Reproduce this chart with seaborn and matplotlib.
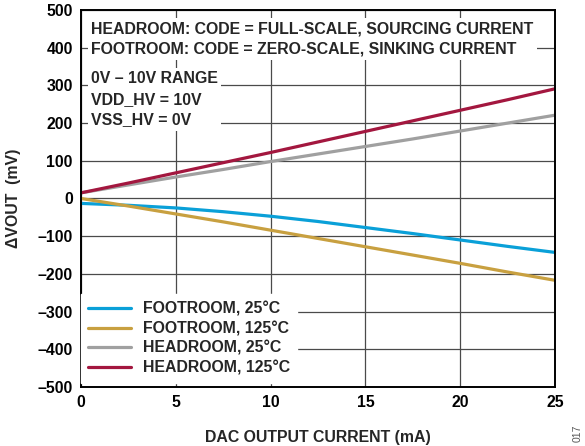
import numpy as np
import pandas as pd
import matplotlib
matplotlib.use("Agg")
import matplotlib.pyplot as plt
import seaborn as sns

# DAC output current (mA)
current_ma = [0, 2.5, 5, 7.5, 10, 12.5, 15, 17.5, 20, 22.5, 25]

# Output voltage shift (mV) for each condition
footroom_25c = [-13, -18, -25, -35, -47, -61, -77, -93, -110, -127, -143]
footroom_125c = [0, -20, -41, -62, -84, -106, -128, -150, -172, -195, -217]
headroom_25c = [15, 36, 57, 77, 98, 118, 138, 158, 179, 200, 221]
headroom_125c = [15, 41, 68, 95, 122, 150, 178, 206, 234, 262, 291]

series_names = ["FOOTROOM, 25°C", "FOOTROOM, 125°C", "HEADROOM, 25°C", "HEADROOM, 125°C"]
series_colors = ["#0aa0d8", "#c8a040", "#a0a0a0", "#a3173f"]

x_ticks = [0, 5, 10, 15, 20, 25]
y_ticks = [-500, -400, -300, -200, -100, 0, 100, 200, 300, 400, 500]

conditions_top = "HEADROOM: CODE = FULL-SCALE, SOURCING CURRENT\nFOOTROOM: CODE = ZERO-SCALE, SINKING CURRENT"
conditions_supply = "0V – 10V RANGE\nVDD_HV = 10V\nVSS_HV = 0V"

frames = []
for name, vals in zip(series_names, [footroom_25c, footroom_125c, headroom_25c, headroom_125c]):
    frames.append(pd.DataFrame({"current": current_ma, "dvout": vals, "series": name}))
df = pd.concat(frames, ignore_index=True)

sns.set_theme(style="whitegrid")
plt.rcParams["font.family"] = ["Liberation Sans", "DejaVu Sans"]
plt.rcParams["font.weight"] = "bold"
plt.rcParams["axes.unicode_minus"] = True

FS = 11.4

fig = plt.figure(figsize=(5.85, 4.46), dpi=100)
ax = fig.add_axes([81 / 585, 1 - 387 / 446, (555 - 81) / 585, (387 - 10) / 446])

sns.lineplot(data=df, x="current", y="dvout", hue="series", hue_order=series_names,
             palette=series_colors, linewidth=2.3, ax=ax, legend=True)

ax.set_xlim(0, 25)
ax.set_ylim(-500, 500)
ax.set_xticks(x_ticks)
ax.set_yticks(y_ticks)
ax.set_yticklabels([("–" + str(abs(v))) if v < 0 else str(v) for v in y_ticks])
ax.tick_params(axis="both", length=0, labelsize=FS, colors="black", pad=6)
for lab in ax.get_xticklabels() + ax.get_yticklabels():
    lab.set_fontweight("bold")

ax.grid(True, color="#4a4a4a", linewidth=0.9)
ax.set_facecolor("white")
for sp in ax.spines.values():
    sp.set_color("black")
    sp.set_linewidth(1.4)

ax.set_xlabel("DAC OUTPUT CURRENT (mA)", fontsize=FS, fontweight="bold", labelpad=14)
ax.set_ylabel("ΔVOUT  (mV)", fontsize=FS, fontweight="bold", labelpad=12)

leg = ax.legend(loc="lower left", bbox_to_anchor=(0.0, 0.011), fontsize=FS, frameon=True,
                fancybox=False, handlelength=2.7, handletextpad=0.75, labelspacing=0.3,
                borderaxespad=0.0, borderpad=0.45)
leg.get_frame().set_facecolor("white")
leg.get_frame().set_edgecolor("white")
leg.get_frame().set_alpha(1)
for t in leg.get_texts():
    t.set_fontweight("bold")
for h in leg.get_lines():
    h.set_linewidth(2.3)

box = dict(facecolor="white", edgecolor="none", pad=2.5)
ax.text(0.53, 470, conditions_top, fontsize=FS, fontweight="bold", va="top", ha="left",
        linespacing=1.45, bbox=box, zorder=5)
ax.text(0.53, 337, conditions_supply, fontsize=FS, fontweight="bold", va="top", ha="left",
        linespacing=1.45, bbox=box, zorder=5)

fig.text(578 / 585, 1 - 433 / 446, "017", rotation=90, fontsize=7.5, color="#555555",
         ha="center", va="center", fontweight="normal")

fig.savefig("out.png", dpi=100, facecolor="white")
